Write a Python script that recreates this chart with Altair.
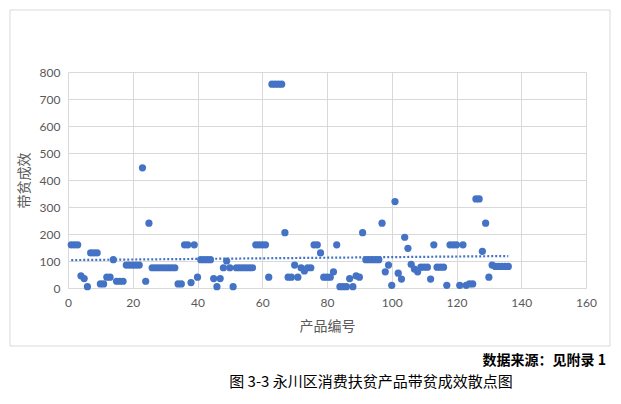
import altair as alt
import pandas as pd

product_ids = list(range(1, 137))
effects = [
    160, 160, 160, 45, 35, 5, 130, 130, 130, 15,
    15, 40, 40, 105, 25, 25, 25, 85, 85, 85,
    85, 85, 445, 25, 240, 75, 75, 75, 75, 75,
    75, 75, 75, 15, 15, 160, 160, 20, 160, 40,
    105, 105, 105, 105, 35, 5, 35, 75, 100, 75,
    5, 75, 75, 75, 75, 75, 75, 160, 160, 160,
    160, 40, 755, 755, 755, 755, 205, 40, 40, 85,
    40, 75, 63, 75, 75, 160, 160, 130, 40, 40,
    40, 60, 160, 5, 5, 5, 35, 5, 45, 40,
    205, 105, 105, 105, 105, 105, 240, 60, 85, 10,
    320, 55, 33, 188, 147, 88, 70, 60, 77, 77,
    77, 33, 160, 77, 77, 77, 10, 160, 160, 160,
    10, 160, 10, 15, 15, 330, 330, 136, 240, 40,
    85, 80, 80, 80, 80, 80,
]
x_ticks = [0, 20, 40, 60, 80, 100, 120, 140, 160]
y_ticks = [0, 100, 200, 300, 400, 500, 600, 700, 800]

x_title = "产品编号"
y_title = "带贫成效"
source_note = "数据来源：见附录 1"
caption = "图 3-3  永川区消费扶贫产品带贫成效散点图"

df = pd.DataFrame({"x": product_ids, "y": effects})

BLUE = "#4472C4"
GRID = "#d9d9d9"
LABEL = "#595959"
CJK = "Noto Sans CJK SC"

xs = alt.Scale(domain=[0, 160], nice=False)
ys = alt.Scale(domain=[0, 800], nice=False)

x_axis = alt.Axis(
    values=x_ticks, title=x_title, grid=True, gridColor=GRID,
    domainColor=GRID, ticks=False, labelColor=LABEL, labelFont="Lato",
    labelFontSize=12, labelPadding=9, labelFlush=False, labelOverlap=False,
    titleFont=CJK, titleFontSize=14,
    titleFontWeight="normal", titleColor=LABEL, titlePadding=11)
y_axis = alt.Axis(
    values=y_ticks, title=y_title, grid=True, gridColor=GRID,
    domain=False, ticks=False, labelColor=LABEL, labelFont="Lato",
    labelFontSize=12, labelPadding=8, labelFlush=False, labelOverlap=False,
    titleFont=CJK, titleFontSize=14,
    titleFontWeight="normal", titleColor=LABEL, titlePadding=8)

base = alt.Chart(df)

points = base.mark_circle(size=52, opacity=1, color=BLUE).encode(
    x=alt.X("x:Q", scale=xs, axis=x_axis),
    y=alt.Y("y:Q", scale=ys, axis=y_axis),
)

trend = base.transform_regression("x", "y", extent=[1, 136]).mark_line(
    color=BLUE, strokeWidth=2.2, strokeDash=[2, 2]
).encode(x=alt.X("x:Q", scale=xs, axis=x_axis),
         y=alt.Y("y:Q", scale=ys, axis=y_axis))

frame = alt.Chart(pd.DataFrame({"a": [0]})).mark_rect(
    fill=None, stroke="#d9d9d9", strokeWidth=1
).encode(x=alt.value(-58), x2=alt.value(542), y=alt.value(-62), y2=alt.value(274))

note = alt.Chart(pd.DataFrame({"t": [source_note]})).mark_text(
    font=CJK, fontSize=14, fontWeight="bold", align="right", baseline="middle",
    color="#000000"
).encode(text="t:N", x=alt.value(538), y=alt.value(289))

cap = alt.Chart(pd.DataFrame({"t": [caption]})).mark_text(
    font=CJK, fontSize=15, align="center", baseline="middle", color="#000000"
).encode(text="t:N", x=alt.value(303), y=alt.value(310))

chart = alt.layer(frame, trend, points, note, cap).properties(
    width=518, height=216,
    autosize=alt.AutoSizeParams(type="none"),
    padding={"left": 68, "top": 72, "right": 35, "bottom": 116},
    background="white",
).configure_view(stroke=None)

chart.save("out.html", embed_options={"renderer": "svg", "actions": False})
